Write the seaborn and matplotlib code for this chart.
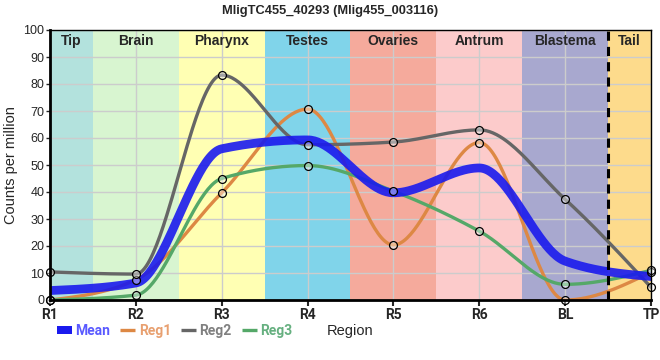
import matplotlib
matplotlib.use('Agg')
import numpy as np
import pandas as pd
import seaborn as sns
import matplotlib.pyplot as plt
from matplotlib.lines import Line2D
from matplotlib.patches import Patch

# Data
regions = ['R1', 'R2', 'R3', 'R4', 'R5', 'R6', 'BL', 'TP']
mean = [3.5, 6.3, 56.0, 59.3, 39.7, 48.9, 14.4, 8.7]
reg1 = [0.0, 7.5, 39.7, 70.7, 20.4, 58.3, 0.0, 10.3]
reg2 = [10.4, 9.6, 83.3, 57.5, 58.5, 63.0, 37.3, 4.7]
reg3 = [0.0, 1.8, 45.0, 49.8, 40.3, 25.5, 5.8, 11.0]

tissues = ['Tip', 'Brain', 'Pharynx', 'Testes', 'Ovaries', 'Antrum', 'Blastema', 'Tail']
tissue_colors = ['#b3e2dd', '#d8f5d0', '#ffffb3', '#80d4ea',
                 '#f5aa9c', '#fccbcb', '#a8a8cf', '#fddb8c']

series_colors = {'Mean': '#1a1aee', 'Reg1': '#dd8844', 'Reg2': '#666666', 'Reg3': '#55a868'}
label_colors = {'Mean': '#5a5aff', 'Reg1': '#e8a070', 'Reg2': '#808080', 'Reg3': '#66b080'}


def monotone(y, n=50):
    # monotone cubic (d3 monotoneX style) on unit spaced x
    y = np.asarray(y, dtype=float)
    s = np.diff(y)
    m = np.zeros(len(y))
    for i in range(1, len(y) - 1):
        s0, s1 = s[i - 1], s[i]
        p = (s0 + s1) / 2
        m[i] = (np.sign(s0) + np.sign(s1)) * min(abs(s0), abs(s1), 0.5 * abs(p))
    m[0] = (3 * s[0] - m[1]) / 2
    m[-1] = (3 * s[-1] - m[-2]) / 2
    xs, ys = [], []
    u = np.linspace(0, 1, n, endpoint=False)
    for i in range(len(y) - 1):
        h00 = 2 * u**3 - 3 * u**2 + 1
        h10 = u**3 - 2 * u**2 + u
        h01 = -2 * u**3 + 3 * u**2
        h11 = u**3 - u**2
        xs.append(i + u)
        ys.append(h00 * y[i] + h10 * m[i] + h01 * y[i + 1] + h11 * m[i + 1])
    xs.append([len(y) - 1])
    ys.append([y[-1]])
    return np.concatenate(xs), np.concatenate(ys)


sns.set_style('white')
plt.rcParams['font.family'] = ['Liberation Sans', 'DejaVu Sans']

fig = plt.figure(figsize=(6.6, 3.6), dpi=100)
ax = fig.add_axes([50 / 660, 60 / 360, 601 / 660, 270 / 360])

x = np.arange(len(regions))

# tissue bands
edges = [0] + [i + 0.5 for i in range(len(tissues) - 1)] + [len(regions) - 1]
for i, name in enumerate(tissues):
    ax.axvspan(edges[i], edges[i + 1], color=tissue_colors[i], zorder=0.1, lw=0)
    ax.text((edges[i] + edges[i + 1]) / 2, 96, name, ha='center', va='center',
            fontsize=10, fontweight='bold', zorder=5)

ax.axvline(6.5, color='black', lw=2.2, ls=(0, (3, 2)), zorder=4)

# smooth curves
rows = []
for name, vals in [('Reg1', reg1), ('Reg2', reg2), ('Reg3', reg3)]:
    xs, ys = monotone(vals)
    rows.append(pd.DataFrame({'x': xs, 'y': ys, 'series': name}))
curves = pd.concat(rows, ignore_index=True)
sns.lineplot(data=curves, x='x', y='y', hue='series', palette=series_colors,
             lw=2.4, ax=ax, legend=False, sort=False, zorder=2)

mx, my = monotone(mean)
sns.lineplot(x=mx, y=my, color=series_colors['Mean'], lw=6.3, alpha=0.9,
             ax=ax, legend=False, sort=False, zorder=3)

points = pd.concat([pd.DataFrame({'x': x, 'y': v}) for v in (reg1, reg2, reg3)])
sns.scatterplot(data=points, x='x', y='y', s=32, facecolor=(1, 1, 1, 0.4),
                edgecolor='black', linewidth=0.9, ax=ax, zorder=6, clip_on=False)

ax.set_xlim(0, len(regions) - 1)
ax.set_ylim(0, 100)
ax.set_xticks(x)
ax.set_xticklabels(regions, fontsize=10, fontweight='bold', family='Roboto')
ax.set_yticks(range(0, 101, 10))
ax.tick_params(axis='y', labelsize=9, length=3, width=1, pad=1)
ax.tick_params(axis='x', length=4, width=1.5, pad=2)
ax.tick_params(direction='out', bottom=True, left=True)
ax.grid(True, color='#cccccc', lw=1)
ax.set_axisbelow(True)
ax.set_xlabel('')
ax.set_ylabel('Counts per million', fontsize=10.5, labelpad=4)
for side in ['left', 'bottom']:
    ax.spines[side].set_linewidth(2)
for side in ['top', 'right']:
    ax.spines[side].set_linewidth(1)
for sp in ax.spines.values():
    sp.set_color('black')
    sp.set_zorder(7)

fig.suptitle('MligTC455_40293 (Mlig455_003116)', fontsize=9.3, fontweight='bold', y=0.985)

handles = [Patch(facecolor=series_colors['Mean'], edgecolor='none'),
           Line2D([], [], color=series_colors['Reg1'], lw=2.4, solid_capstyle='butt'),
           Line2D([], [], color=series_colors['Reg2'], lw=2.4, solid_capstyle='butt'),
           Line2D([], [], color=series_colors['Reg3'], lw=2.4, solid_capstyle='butt')]
names = ['Mean', 'Reg1', 'Reg2', 'Reg3']
leg = fig.legend(handles, names, loc='center left', bbox_to_anchor=(47 / 660, 1 - 331 / 360),
                 ncol=4, frameon=False, handlelength=1.1, handleheight=0.55,
                 handletextpad=0.25, columnspacing=0.7, borderpad=0.2,
                 labelcolor=[label_colors[n] for n in names],
                 prop={'weight': 'bold', 'size': 10, 'family': 'Roboto'})
fig.text(350 / 660, 1 - 331 / 360, 'Region', ha='center', va='center', fontsize=10.5)

fig.savefig('out.png', dpi=100)
